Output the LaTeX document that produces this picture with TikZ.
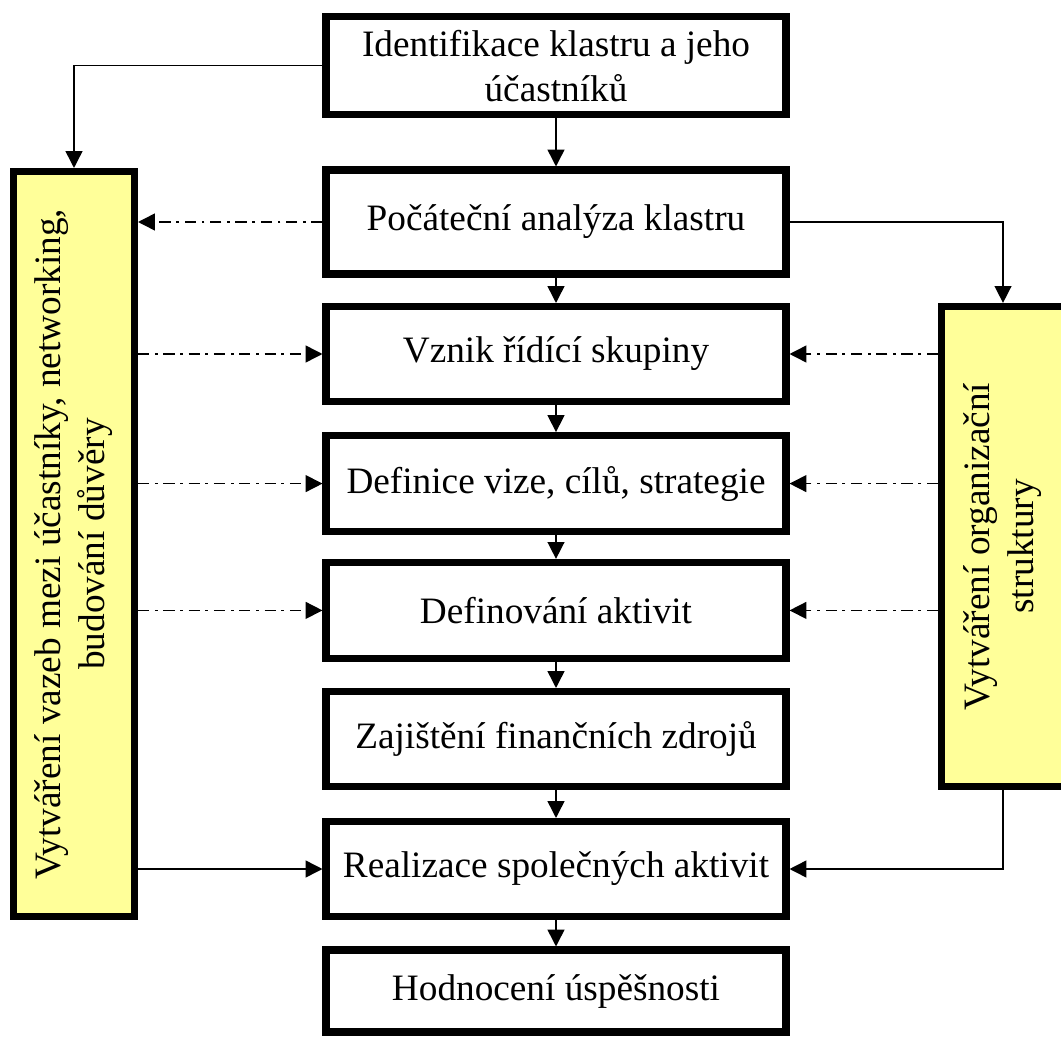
\documentclass[tikz,border=0pt]{standalone}
\usepackage{fontspec}
\setmainfont{Liberation Serif}
\usepackage{graphicx}
\usepackage{xcolor}
\usetikzlibrary{calc}
\usetikzlibrary{positioning}
\usetikzlibrary{arrows.meta}
\definecolor{zluta}{RGB}{255,255,153}
\tikzset{
	krok/.style={draw,line width=5pt,minimum width=11.5cm,minimum height=2.4cm,align=center,inner sep=0pt,font=\fontsize{26.5}{32}\selectfont},
	pruh/.style={draw,line width=5pt,fill=zluta,inner sep=0pt,font=\fontsize{26.5}{31}\selectfont},
	sipka/.style={line width=1.1pt,-{Triangle[length=12pt,width=12pt]}},
	carka/.style={sipka,dash pattern=on 8pt off 4pt on 2pt off 4pt},
}

\begin{document}
\begin{tikzpicture}
	\useasboundingbox (0,0) rectangle (26.525,-25.925);
	\node[krok,minimum height=2.45cm] (b1) at (13.9,-1.64) {Identifikace klastru a jeho\\účastníků};
	\node[krok,minimum height=2.6cm] (b2) at (13.9,-5.55) {Počáteční analýza klastru};
	\node[krok,minimum height=2.375cm] (b3) at (13.9,-8.85) {Vznik řídící skupiny};
	\node[krok] (b4) at (13.9,-12.09) {Definice vize, cílů, strategie};
	\node[krok] (b5) at (13.9,-15.26) {Definování aktivit};
	\node[krok,minimum height=2.375cm] (b6) at (13.9,-18.475) {Zajištění finančních zdrojů};
	\node[krok,minimum height=2.375cm] (b7) at (13.9,-21.725) {Realizace společných aktivit};
	\node[krok,minimum height=2.05cm] (b8) at (13.9,-24.775) {Hodnocení úspěšnosti};
	
	\node[pruh,minimum width=3.025cm,minimum height=18.625cm] (links) at (1.85,-13.6) {\rotatebox{90}{\begin{tabular}{@{}c@{}}Vytváření vazeb mezi účastníky, networking,\\budování důvěry\end{tabular}}};
	\node[pruh,minimum width=3.075cm,minimum height=12cm] (rechts) at (25.075,-13.66) {\rotatebox{90}{\begin{tabular}{@{}c@{}}Vytváření organizační\\struktury\end{tabular}}};
	
	\foreach \a/\b in {b1/b2,b2/b3,b3/b4,b4/b5,b5/b6,b6/b7,b7/b8}
		\draw[sipka] (\a.south) -- (\b.north);
	\draw[sipka] (b1.west) -| (links.north);
	\draw[sipka] (b2.east) -| (rechts.north);
	\draw[carka] (b2.west) -- (b2.west -| links.east);
	\foreach \k in {b3,b4,b5} {
		\draw[carka] (links.east |- \k.west) -- (\k.west);
		\draw[carka] (rechts.west |- \k.east) -- (\k.east);
	}
	\draw[sipka] (links.east |- b7.west) -- (b7.west);
	\draw[sipka] (rechts.south) |- (b7.east);
\end{tikzpicture}
\end{document}
